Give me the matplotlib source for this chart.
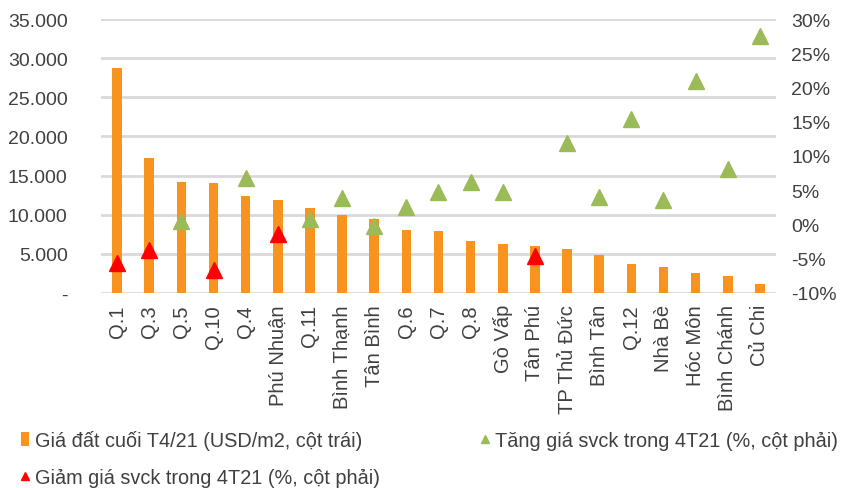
import numpy as np
import matplotlib
matplotlib.use('Agg')
from matplotlib import pyplot as plt
from matplotlib.ticker import FuncFormatter, MultipleLocator

plt.rcParams['font.family'] = ['Liberation Sans', 'DejaVu Sans']

districts = ['Q.1', 'Q.3', 'Q.5', 'Q.10', 'Q.4', 'Phú Nhuận', 'Q.11', 'Bình Thạnh',
             'Tân Bình', 'Q.6', 'Q.7', 'Q.8', 'Gò Vấp', 'Tân Phú', 'TP Thủ Đức',
             'Bình Tân', 'Q.12', 'Nhà Bè', 'Hóc Môn', 'Bình Chánh', 'Củ Chi']
price = [28700, 17300, 14200, 14000, 12400, 11900, 10800, 10000, 9400, 8100,
         7900, 6600, 6200, 6000, 5600, 4800, 3700, 3300, 2600, 2200, 1100]
change_pct = [-5.7, -3.8, 0.5, -6.7, 6.8, -1.4, 0.8, 3.9, -0.3, 2.6,
              4.7, 6.2, 4.7, -4.6, 11.9, 4.0, 15.4, 3.5, 21.0, 8.1, 27.5]
# Tân Bình is shown as an increase marker in the source despite sitting below 0
up_flag = [False, False, True, False, True, False, True, True, True, True,
           True, True, True, False, True, True, True, True, True, True, True]

lbl_bar = 'Giá đất cuối T4/21 (USD/m2, cột trái)'
lbl_up = 'Tăng giá svck trong 4T21 (%, cột phải)'
lbl_down = 'Giảm giá svck trong 4T21 (%, cột phải)'

orange = '#F7931E'
green = '#9BBB59'
red = '#FF0000'
txt = '#404040'
grid = '#D9D9D9'

x = np.arange(len(districts))
pct = np.array(change_pct)
up = np.array(up_flag)

fig = plt.figure(figsize=(8.41, 4.89), dpi=100)
ax = fig.add_axes([0.1201, 0.399, 0.8026, 0.560])
ax2 = ax.twinx()

bars = ax.bar(x, price, width=0.3, color=orange, zorder=2)
ax.set_ylim(0, 35000)
ax.set_xlim(-0.5, len(districts) - 0.5)
ax.yaxis.set_major_locator(MultipleLocator(5000))
ax.yaxis.set_major_formatter(FuncFormatter(
    lambda v, p: '-' if v == 0 else '{:,.0f}'.format(v).replace(',', '.')))
ax.grid(axis='y', color=grid, linewidth=2, zorder=0)
ax.set_axisbelow(True)

hu, = ax2.plot(x[up], pct[up], linestyle='none', marker='^', markersize=11,
               color=green, label=lbl_up)
hd, = ax2.plot(x[~up], pct[~up], linestyle='none', marker='^', markersize=11,
               color=red, label=lbl_down)
ax2.set_ylim(-10, 30)
ax2.yaxis.set_major_locator(MultipleLocator(5))
ax2.yaxis.set_major_formatter(FuncFormatter(lambda v, p: '{:.0f}%'.format(v)))

for a in (ax, ax2):
    for s in a.spines.values():
        s.set_visible(False)
    a.tick_params(length=0, colors=txt, labelsize=14)
ax.tick_params(axis='y', pad=24)
ax2.tick_params(axis='y', pad=11)
ax.set_xticks(x)
ax.set_xticklabels(districts, rotation=90, fontsize=14.5, color=txt)
ax.tick_params(axis='x', pad=8)

fig.legend([bars, hd, hu], [lbl_bar, lbl_down, lbl_up], ncol=2,
           loc='lower left', bbox_to_anchor=(0.008, -0.026), frameon=False,
           fontsize=14.3, labelcolor=txt, handlelength=0.4, handletextpad=0.3,
           columnspacing=5.1, markerscale=0.5, labelspacing=0.9,
           borderpad=0.2)

fig.savefig('out.png', dpi=100)
